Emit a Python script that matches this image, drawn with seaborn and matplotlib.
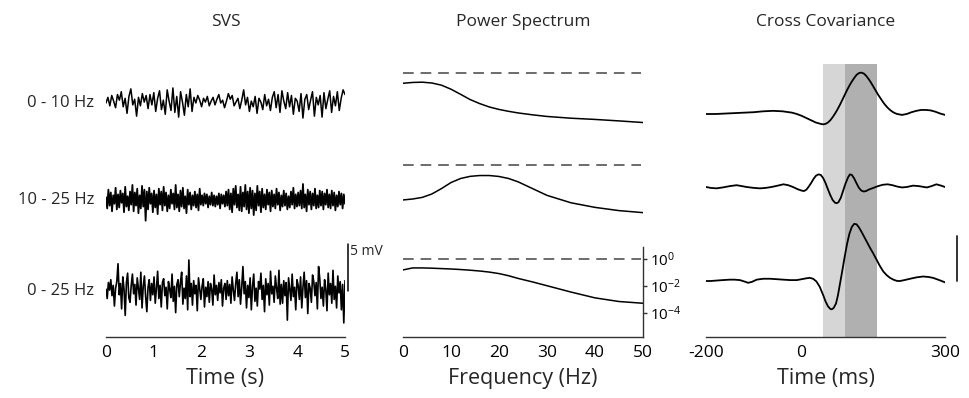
import matplotlib.pyplot as plt
import seaborn as sns
import numpy as np
from matplotlib.transforms import blended_transform_factory

# ---------------- data ----------------
band_labels = ['0 - 10 Hz', '10 - 25 Hz', '0 - 25 Hz']

# SVS traces, mV, evenly sampled over 5 s
svs_0_10 = [0.0, 0.6, -0.3, 0.8, 0.2, -0.5, 0.9, 0.3, 1.2, -0.4, 0.5, -1.1, 0.7, 1.5, -0.2, 0.4,
            -1.4, 0.6, -0.3, 1.0, 0.1, 0.8, -0.6, 0.9, -0.2, 1.1, -0.9, 0.5, 1.3, -0.7, 0.3, -1.2,
            1.4, 0.2, -0.8, 1.6, -1.0, 0.7, -1.5, 1.2, 0.1, -1.3, 0.9, -0.4, 1.5, -0.9, 0.6, 0.0,
            0.8, 0.3, -0.4, 0.5, 0.1, 0.7, -0.3, 0.2, 0.6, -0.2, 0.4, 0.9, 0.0, 0.3, -0.5, 0.2,
            1.0, 0.4, 0.8, -0.3, 0.1, 0.5, -0.6, 0.3, 1.4, -0.2, 0.6, -0.9, 0.2, -0.4, 0.7, -1.1,
            0.5, 0.1, -0.7, 0.9, -0.3, 0.4, -0.8, 0.6, 1.2, -0.5, 0.9, -1.0, 1.3, 0.2, -0.6, 1.1,
            -0.4, 0.8, -1.2, 0.5, 0.2, -0.9, 1.0, -1.6, 0.4, 0.9, -0.7, 0.3, 1.2, -1.4, 0.6, -0.2,
            0.8, -1.5, 1.1, -0.6, 0.4, 1.3, -1.0, 0.7, -0.3, 1.2, -0.8, 0.5, 1.4, 0.9]
svs_10_25 = [0.3, -0.9, 1.1, -0.6, 0.8, -1.2, 0.5, -0.4, 1.3, -1.0, 0.6, -0.8, 1.0, -0.3, 0.7, -1.3, 1.4, -0.7, 0.4, -1.1,
             0.9, -0.5, 1.6, -1.2, 0.8, -0.6, 1.2, -1.4, 0.5, -0.9, 1.5, -0.7, 1.1, -2.2, 0.9, -1.0, 1.3, -0.4, 0.7, -1.3,
             1.0, -0.8, 0.6, -1.5, 1.2, -0.5, 0.9, -1.1, 1.4, -0.6, 0.8, -1.2, 0.5, -0.9, 1.1, -0.4, 0.7, -1.0, 1.6, -0.8,
             0.6, -1.2, 1.0, -0.7, 1.3, -0.9, 0.4, -1.4, 1.1, -0.5, 0.8, -1.0, 0.5, -0.6, 0.9, -0.8, 0.6, -1.1, 1.2, -0.5,
             0.5, -0.6, 0.7, -0.4, 0.6, -0.8, 0.4, -0.5, 0.8, -0.6, 0.5, -0.7, 0.4, -0.5, 0.7, -0.9, 0.6, -0.4, 0.5, -0.7,
             0.9, -0.6, 1.1, -1.0, 0.7, -1.3, 1.2, -0.5, 1.5, -0.8, 0.6, -1.1, 1.4, -1.2, 0.8, -0.7, 1.6, -1.0, 0.9, -1.4,
             1.3, -0.9, 1.0, -1.6, 0.7, -1.1, 1.5, -0.6, 0.9, -1.3, 1.2, -0.8, 0.6, -1.0, 1.1, -0.5, 0.8, -1.2, 1.0, -0.7,
             0.6, -0.9, 1.2, -0.5, 0.8, -1.1, 0.5, -0.7, 1.0, -0.6, 0.7, -1.0, 0.4, -0.8, 0.9, -0.5, 1.3, -0.9, 0.6, -0.7,
             0.8, -0.6, 1.0, -0.9, 1.7, -0.8, 0.6, -1.2, 1.1, -0.5, 0.9, -1.0, 0.7, -0.6, 1.2, -0.9, 0.5, -0.8, 1.0, -0.6,
             0.9, -1.0, 0.7, -0.5, 1.1, -0.8, 0.6, -0.9, 1.0, -0.6, 0.8, -1.1, 0.5, -0.7, 0.9, -0.5, 0.7, -0.9, 0.6, -0.4]
svs_0_25 = [0.2, -0.8, 0.9, 0.1, 1.2, -0.5, 0.6, -1.6, 0.3, 1.0, 2.9, -0.4, 0.8, -1.9, 1.5, 0.2, -2.6, 0.9, 1.9, -0.7,
            -1.2, 0.6, 1.8, -0.3, 0.7, -1.5, 1.4, 0.2, -0.9, 2.0, -1.8, 0.5, 1.6, -0.6, -2.2, 0.4, 1.2, -1.0, 0.8, -0.4,
            1.5, -1.3, 0.3, 2.1, -0.8, 0.6, -1.7, 0.9, 1.3, -0.5, 0.4, -1.9, 1.0, 0.2, -0.7, 1.8, -1.1, 0.5, -2.3, 0.7,
            1.2, -0.6, 0.9, 2.0, -1.4, 0.3, -0.8, 1.6, -2.0, 3.3, -0.6, 0.8, -1.5, 1.1, -0.3, 0.6, -2.1, 1.4, 0.2, -0.9,
            0.5, 1.3, -1.7, 0.4, -0.6, 1.0, -1.2, 0.8, 0.2, -1.5, 1.7, -0.4, 0.6, -1.0, 0.9, -0.2, 1.2, -1.6, 0.3, 0.8,
            -0.9, 1.1, -0.5, 0.7, -1.3, 1.5, 0.1, -1.0, 0.8, 2.0, -0.6, 1.2, -1.4, 0.4, 2.6, -0.3, 1.0, -1.8, 0.6, -0.7,
            1.4, -2.0, 0.5, 1.8, -1.1, 0.3, -1.6, 1.0, 0.2, 1.9, -0.9, 0.6, -2.2, 1.3, -0.4, 0.8, -1.5, 2.1, -0.3, 0.5,
            -1.2, 1.6, 0.3, -0.8, 2.2, -1.4, 0.7, -1.3, 1.1, -0.5, 0.9, -3.1, 1.4, 0.2, -1.0, 1.8, -0.6, 0.4, -2.0, 1.2,
            0.6, -0.9, 1.5, -1.8, 0.4, 2.0, -0.7, 1.1, -2.4, 0.8, 0.3, -1.2, 1.7, 1.0, -0.5, 0.9, -1.9, 2.6, 1.3, -0.8,
            0.4, -1.6, 1.2, 0.2, -2.1, 1.9, -0.4, 0.8, -1.3, 2.2, -0.9, 0.5, -1.8, 1.6, -0.2, 1.0, -2.0, 0.7, -3.4, 1.1]
svs_duration = 5.0
svs_scale_mv = 5
svs_ticks = [0, 1, 2, 3, 4, 5]

# power spectra, log10(power) at these frequencies (Hz)
ps_freq = [0, 2, 4, 6, 8, 10, 12, 14, 16, 18, 20, 22, 24, 27, 30, 35, 40, 45, 50]
ps_log_0_10 = [-0.76, -0.70, -0.68, -0.74, -0.90, -1.20, -1.58, -1.97, -2.27, -2.52,
               -2.70, -2.84, -2.96, -3.10, -3.22, -3.35, -3.44, -3.55, -3.67]
ps_log_10_25 = [-2.59, -2.52, -2.40, -2.15, -1.75, -1.30, -1.00, -0.84, -0.78, -0.78,
                -0.85, -1.00, -1.25, -1.75, -2.25, -2.80, -3.14, -3.38, -3.53]
ps_log_0_25 = [-0.81, -0.66, -0.66, -0.68, -0.71, -0.74, -0.78, -0.83, -0.89, -0.97,
               -1.08, -1.24, -1.44, -1.70, -1.98, -2.45, -2.88, -3.15, -3.28]
ps_reference = 1.0
ps_ticks = [0, 10, 20, 30, 40, 50]
ps_yticks = [1e0, 1e-2, 1e-4]
ps_yticklabels = ['$\\mathregular{10^{0}}$', '$\\mathregular{10^{-2}}$', '$\\mathregular{10^{-4}}$']

# cross covariance (arbitrary units, scale bar = 1), lag in ms
cc_t_0_10 = [-200, -180, -160, -140, -120, -100, -80, -60, -40, -20, -10, 0, 10, 20, 30, 40,
             45, 50, 55, 60, 65, 70, 75, 80, 85, 90, 95, 100, 105, 110, 115, 120, 125, 130,
             135, 140, 145, 150, 155, 160, 165, 170, 175, 180, 185, 190, 195, 200, 210, 220,
             230, 240, 250, 260, 270, 280, 290, 300]
cc_0_10 = [0.00, 0.00, 0.01, 0.02, 0.03, 0.04, 0.06, 0.07, 0.06, 0.03, 0.00, -0.04, -0.09,
           -0.14, -0.19, -0.22, -0.23, -0.22, -0.19, -0.14, -0.07, 0.01, 0.10, 0.20, 0.31,
           0.42, 0.53, 0.63, 0.72, 0.80, 0.87, 0.91, 0.92, 0.90, 0.85, 0.78, 0.70, 0.61,
           0.52, 0.43, 0.35, 0.27, 0.20, 0.14, 0.09, 0.05, 0.02, 0.00, -0.02, 0.00, 0.04,
           0.07, 0.09, 0.09, 0.08, 0.05, 0.01, -0.02]
cc_t_10_25 = [-200, -190, -178, -165, -150, -136, -125, -115, -100, -87, -75, -63, -50, -38,
              -28, -18, -8, 0, 5, 10, 15, 20, 25, 30, 35, 40, 45, 50, 55, 60, 65, 70, 73, 77,
              82, 87, 92, 97, 101, 105, 110, 115, 120, 125, 130, 135, 140, 150, 160, 170, 180,
              190, 200, 210, 220, 233, 245, 262, 272, 282, 292, 300]
cc_10_25 = [0.00, -0.02, -0.03, -0.01, 0.02, 0.04, 0.02, 0.00, -0.02, -0.03, -0.02, 0.00,
            0.03, 0.06, 0.04, 0.00, -0.05, -0.08, -0.09, -0.06, 0.01, 0.09, 0.18, 0.25, 0.28,
            0.27, 0.20, 0.09, -0.05, -0.18, -0.29, -0.35, -0.36, -0.34, -0.24, -0.08, 0.08,
            0.21, 0.28, 0.27, 0.19, 0.08, -0.02, -0.08, -0.10, -0.09, -0.06, -0.02, 0.02,
            0.05, 0.06, 0.04, 0.01, -0.01, 0.00, 0.03, 0.02, -0.01, 0.02, 0.06, 0.03, 0.00]
cc_t_0_25 = [-200, -190, -178, -165, -150, -140, -129, -120, -112, -104, -94, -80, -66, -52,
             -38, -24, -10, 0, 10, 17, 24, 31, 38, 45, 50, 55, 60, 63, 67, 72, 76, 80, 85, 90,
             95, 100, 105, 110, 115, 120, 125, 130, 136, 143, 150, 157, 164, 171, 178, 185,
             192, 200, 206, 215, 227, 240, 254, 265, 275, 288, 300]
cc_0_25 = [0.00, 0.00, 0.01, 0.02, 0.03, 0.03, 0.02, -0.01, -0.04, -0.02, 0.03, 0.05, 0.05,
           0.04, 0.03, 0.02, 0.02, 0.04, 0.06, 0.07, 0.05, -0.01, -0.13, -0.31, -0.45, -0.56,
           -0.62, -0.63, -0.60, -0.50, -0.32, -0.08, 0.22, 0.53, 0.82, 1.05, 1.20, 1.27, 1.26,
           1.19, 1.10, 1.00, 0.88, 0.74, 0.61, 0.47, 0.33, 0.21, 0.13, 0.07, 0.03, 0.00, 0.00,
           0.02, 0.05, 0.08, 0.10, 0.09, 0.07, 0.02, -0.03]
cc_window_early = (45, 90)
cc_window_late = (90, 157)
cc_ticks = [-200, -100, 0, 100, 200, 300]
cc_ticklabels = ['-200', '', '0', '', '', '300']

# ---------------- styling ----------------
sns.set_style('white')
plt.rcParams['font.family'] = ['Open Sans', 'DejaVu Sans']
plt.rcParams['mathtext.fontset'] = 'custom'
plt.rcParams['mathtext.rm'] = 'Open Sans'

W, H = 969, 398
fig = plt.figure(figsize=(W / 100, H / 100), dpi=100)


def px_axes(left, top, right, bottom):
    return fig.add_axes([left / W, 1 - bottom / H, (right - left) / W, (bottom - top) / H])


def bottom_axis(ax, ticks, xlabel, labels=None):
    for s in ['top', 'left', 'right']:
        ax.spines[s].set_visible(False)
    ax.spines['bottom'].set_linewidth(1.0)
    ax.spines['bottom'].set_color('#333333')
    ax.set_xticks(ticks)
    if labels is not None:
        ax.set_xticklabels(labels)
    ax.tick_params(axis='x', direction='in', length=3, width=1, colors='#333333',
                   labelcolor='black', labelsize=12.5, pad=6)
    ax.set_yticks([])
    ax.set_xlabel(xlabel, fontsize=15.5, labelpad=5)
    ax.set_facecolor('none')


# ---------------- SVS column ----------------
svs_px_per_mv = 47 / svs_scale_mv
svs_half = 46 / svs_px_per_mv
svs_traces = [svs_0_10, svs_10_25, svs_0_25]
svs_widths = [1.1, 1.3, 1.2]
svs_centers = [103, 200, 291]
svs_axes = []
for trace, yc, lab, w in zip(svs_traces, svs_centers, band_labels, svs_widths):
    ax = px_axes(106, yc - 46, 345, yc + 46)
    t = np.linspace(0, svs_duration, len(trace))
    sns.lineplot(x=t, y=trace, ax=ax, color='black', lw=w, sort=False)
    ax.set_xlim(0, svs_duration)
    ax.set_ylim(-svs_half, svs_half)
    ax.text(-0.05, 0, lab, transform=blended_transform_factory(ax.transAxes, ax.transData),
            ha='right', va='center', fontsize=12)
    svs_axes.append(ax)
for ax in svs_axes[:2]:
    ax.axis('off')
ax = svs_axes[2]
bottom_axis(ax, svs_ticks, 'Time (s)')
bar_x = svs_duration * 1.012
ax.plot([bar_x, bar_x], [0, svs_scale_mv], color='black', lw=1.1, clip_on=False)
ax.text(bar_x + 0.04, svs_scale_mv, f'{svs_scale_mv} mV', fontsize=10, ha='left', va='top')

# ---------------- Power spectrum column ----------------
ps_traces = [ps_log_0_10, ps_log_10_25, ps_log_0_25]
ps_tops = [61, 153, 247]
ps_axes = []
for logp, top in zip(ps_traces, ps_tops):
    ax = px_axes(403, top, 643, top + 90)
    ax.set_yscale('log')
    ax.axhline(ps_reference, xmin=0, xmax=0.99, color='#444444', lw=1.1, ls=(0, (7, 4.5)))
    sns.lineplot(x=ps_freq, y=10 ** np.array(logp), ax=ax, color='black', lw=1.1)
    ax.set_xlim(0, 50)
    ax.set_ylim(10 ** -5.78, 10 ** 0.89)
    ps_axes.append(ax)
for ax in ps_axes[:2]:
    ax.axis('off')
ax = ps_axes[2]
bottom_axis(ax, ps_ticks, 'Frequency (Hz)')
ax.spines['right'].set_visible(True)
ax.spines['right'].set_linewidth(1.0)
ax.spines['right'].set_color('#333333')
ax.yaxis.tick_right()
ax.set_yticks(ps_yticks)
ax.set_yticklabels(ps_yticklabels)
ax.yaxis.set_minor_locator(plt.NullLocator())
ax.tick_params(axis='y', direction='out', length=3, width=1, colors='#333333',
               labelcolor='black', labelsize=11, pad=2)

# ---------------- Cross covariance column ----------------
cc_px_per_unit = 45
ax_cc = px_axes(706, 64, 945, 337)
ax_cc.set_xlim(-200, 300)
ax_cc.set_ylim(-(337 - 281) / cc_px_per_unit, (281 - 64) / cc_px_per_unit)
ax_cc.axvspan(*cc_window_early, color='#d6d6d6', lw=0, zorder=0)
ax_cc.axvspan(*cc_window_late, color='#b0b0b0', lw=0, zorder=0)
sns.lineplot(x=cc_t_0_25, y=cc_0_25, ax=ax_cc, color='black', lw=1.3)
bottom_axis(ax_cc, cc_ticks, 'Time (ms)', cc_ticklabels)
ax_cc.plot([326, 326], [0, 1], color='#222222', lw=1.3, clip_on=False)

for tt, vv, yc in [(cc_t_0_10, cc_0_10, 114), (cc_t_10_25, cc_10_25, 187)]:
    ax = px_axes(706, yc - 45, 945, yc + 45)
    sns.lineplot(x=tt, y=vv, ax=ax, color='black', lw=1.3)
    ax.set_xlim(-200, 300)
    ax.set_ylim(-1, 1)
    ax.axis('off')

# ---------------- titles ----------------
fig.text(226 / W, 1 - 22 / H, 'SVS', ha='center', va='center', fontsize=12.5)
fig.text(523 / W, 1 - 22 / H, 'Power Spectrum', ha='center', va='center', fontsize=12.5)
fig.text(826 / W, 1 - 22 / H, 'Cross Covariance', ha='center', va='center', fontsize=12.5)

fig.savefig('out.png', dpi=100)
